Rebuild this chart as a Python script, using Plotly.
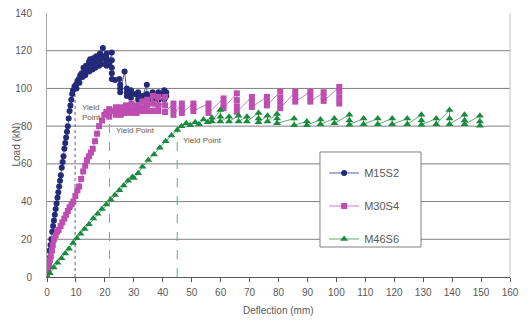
import plotly.graph_objects as go

# ---- data ----
m15_x = [0, 0.3, 0.6, 0.9, 1.2, 1.5, 1.8, 2.1, 2.4, 2.7, 3.0, 3.3, 3.6, 3.9, 4.2, 4.5, 4.8, 5.1, 5.4, 5.7,
         6.0, 6.3, 6.6, 6.9, 7.2, 7.5, 7.8, 8.1, 8.4, 8.7, 9.0, 9.5, 10.0, 10.5, 10.2, 11.0, 11.5, 11.2,
         12.0, 12.6, 12.3, 13.0, 13.5, 13.2, 14.0, 14.5, 14.9, 14.6, 15.5, 16.0, 15.7, 16.5, 17.0, 16.7,
         17.5, 18.0, 18.3, 18.0, 18.8, 19.3, 19.0, 19.3, 20.0, 20.6, 20.6, 20.6, 20.6, 21.5, 22.4, 22.4,
         22.4, 22.4, 22.4, 23.5, 25.0, 25.3, 25.3, 25.3, 26.8, 27.6, 27.6, 27.6, 29.0, 29.0, 29.0, 30.5,
         31.5, 31.5, 31.5, 33.0, 34.5, 34.5, 34.5, 36.0, 36.5, 36.5, 38.0, 38.5, 38.5, 40.0, 40.5, 40.5,
         41.2, 41.2]
m15_y = [0, 6, 10, 14, 17, 20, 24, 27, 30, 33, 36, 39, 42, 45, 48, 51, 54, 58, 61, 64,
         68, 71, 74, 77, 80, 84, 88, 91, 94, 97, 99, 101, 102, 104, 100, 105, 107, 103,
         108, 111, 106, 109, 112, 107, 111, 114, 115.5, 109, 113, 116, 110, 114, 117, 111,
         115, 117, 118.5, 112, 116, 121.5, 113, 117, 116, 118.5, 116, 114, 112, 113, 119, 115,
         111, 108, 105, 104.5, 105, 102, 100, 98, 109, 100, 98, 96, 99, 97, 95, 97,
         98, 96, 94, 96, 102, 97, 95, 96, 98, 94, 96, 98, 94, 97, 99, 94,
         98, 96]

m30_x = [0, 0.4, 0.7, 1.0, 1.3, 1.7, 2.0, 2.4, 3.0, 3.5, 4.0, 4.7, 5.3, 6.0, 6.6, 7.2, 7.8, 8.5, 9.1,
         9.8, 10.5, 11.1, 11.8, 12.5, 13.2, 13.8, 14.5, 15.2, 15.8, 16.6, 17.3, 18.0, 19.0, 19.8, 20.5,
         21.5, 21.5, 21.5, 23.0, 23.8, 23.8, 23.8, 25.5, 25.5, 25.5, 27.3, 27.3, 27.3, 29.2, 29.2, 29.2,
         31.0, 31.0, 31.0, 32.9, 32.9, 32.9, 34.6, 34.6, 34.6, 36.6, 36.6, 36.6, 38.5, 38.5, 38.5,
         40.8, 40.8, 40.8, 43.7, 43.7, 43.7, 46.6, 46.6, 46.6, 50.6, 50.6, 50.6, 55.8, 55.8, 55.8,
         61.0, 61.0, 61.0, 65.6, 65.6, 65.6, 65.6, 70.8, 70.8, 70.8, 76.0, 76.0, 76.0,
         80.6, 80.6, 80.6, 80.6, 85.8, 85.8, 85.8, 91.0, 91.0, 91.0, 95.6, 95.6, 95.6,
         101.0, 101.0, 101.0, 101.0]
m30_y = [0, 3, 6, 9, 11, 14, 17, 20, 22, 24, 25, 27, 29, 31, 33, 35, 37, 38.5, 40,
         43, 46, 48, 52, 56, 59, 62, 64, 66, 68, 72, 76, 80, 83, 86, 87.5,
         89, 87, 85, 88, 90, 88, 86, 90, 88, 86, 91, 89, 87, 92, 89, 87,
         91, 89, 87, 93, 90, 88, 94, 91, 88, 96, 92, 88, 95.5, 91, 88,
         95.5, 91, 87.5, 92, 89, 86, 92, 89.5, 87, 92, 90, 88, 92, 89.5, 87,
         94.7, 92, 89.5, 97.4, 93.8, 90.5, 87.6, 95.5, 92.8, 90.2, 95.5, 93, 91,
         98.3, 95, 92.5, 89.5, 98.2, 95.5, 93, 98.2, 95.5, 93, 98, 95.5, 93.4,
         100.8, 98.2, 95, 92]

m46_x = [0, 1, 2.3, 3.6, 5, 6.3, 7.6, 9, 10.3, 11.6, 13, 14.5, 16, 17.5, 19, 20.5, 22, 23.5, 25,
         26.5, 28, 29.5, 30, 31.5, 33, 35, 37, 39, 41, 43, 45,
         46.5, 48.1, 49.5, 51.2, 52.5, 54.1, 55.5, 57, 57, 59.9, 59.9, 59.9, 62.9, 62.9, 66.2, 66.2,
         69.1, 69.1, 73.1, 73.1, 73.1, 76.2, 76.2, 79.5, 79.5, 79.5, 85.4, 85.4, 89.8, 89.8,
         94.5, 94.5, 99.3, 99.3, 104.5, 104.5, 104.5, 109.4, 109.4, 114.3, 114.3, 119.3, 119.3,
         124.5, 124.5, 129.4, 129.4, 129.4, 134.5, 134.5, 139.1, 139.1, 139.1, 144.3, 144.3, 144.3,
         149.6, 149.6, 149.6]
m46_y = [0, 2, 5, 7.5, 10, 12.5, 15, 18, 20.5, 23, 25.5, 28, 31, 33.5, 36, 38.5, 41, 43.5, 46,
         48.5, 51, 53, 52.5, 55, 58.5, 62, 65, 68.5, 72, 75, 78,
         80, 81.5, 80.5, 82, 81, 83.5, 82, 84.5, 82.5, 88.5, 85, 82.5, 85, 82.5, 85.5, 82.5,
         85, 82.5, 87, 84, 82, 85.5, 82.5, 86.5, 84, 81.5, 84, 80.5, 82.5, 80.5,
         83.5, 81, 84, 81.5, 86, 83, 80.8, 84, 81, 84, 81, 84, 81,
         84, 81, 86, 83, 80.8, 84, 81, 88.5, 84, 81, 86, 83, 81,
         85.5, 82.5, 80.2]

yield_x = [9.7, 21.6, 45.0]
yield_y = [99, 87, 78]
yield_labels = ["Yield<br>Point", "Yield Point", "Yield Point"]
label_x = [11.3, 23.3, 46.3]
label_y = [87.5, 77.5, 72.5]

x_ticks = list(range(0, 161, 10))
y_ticks = list(range(0, 141, 20))
grid_y = [20, 40, 60, 80, 100, 120]

series_names = ["M15S2", "M30S4", "M46S6"]
colors = ["#232A78", "#BE4DB2", "#1B8A3E"]
line_colors = ["#5A5E9E", "#CC7CC3", "#5DAE73"]

fig = go.Figure()

# yield point guide lines
dashes = ["dot", "dash", "dash"]
for xv, yv, c, d in zip(yield_x, yield_y, line_colors, dashes):
    fig.add_trace(go.Scatter(x=[xv, xv], y=[0, yv], mode="lines",
                             line=dict(color=c, width=1, dash=d),
                             showlegend=False, hoverinfo="skip"))

symbols = ["circle", "square", "triangle-up"]
sizes = [6, 6, 7]
data = [(m15_x, m15_y), (m30_x, m30_y), (m46_x, m46_y)]
for i, (xs, ys) in enumerate(data):
    fig.add_trace(go.Scatter(x=xs, y=ys, mode="lines+markers", name=series_names[i],
                             legendgroup=series_names[i],
                             line=dict(color=line_colors[i], width=1),
                             marker=dict(symbol=symbols[i], size=sizes[i], color=colors[i],
                                         line=dict(width=0))))

for t, xv, yv in zip(yield_labels, label_x, label_y):
    fig.add_annotation(x=xv, y=yv, text=t, showarrow=False, xanchor="left", yanchor="middle",
                       align="left", font=dict(size=8, color="#6B5A45", family="Liberation Sans"))

# axis titles
fig.add_annotation(xref="paper", yref="paper", x=0.5, y=-0.125, text="Deflection (mm)",
                   showarrow=False, xanchor="center", yanchor="middle",
                   font=dict(size=10, color="#595959"))
fig.add_annotation(xref="paper", yref="paper", x=-0.068, y=0.5, text="Load (kN)",
                   textangle=-90, showarrow=False, xanchor="center", yanchor="middle",
                   font=dict(size=10, color="#595959"))

for g in grid_y:
    fig.add_shape(type="line", xref="paper", x0=0, x1=1, yref="y", y0=g, y1=g,
                  line=dict(color="#7F7F7F", width=1), layer="below")
# right border
fig.add_shape(type="line", xref="paper", x0=1, x1=1, yref="paper", y0=0, y1=1,
              line=dict(color="#BFBFBF", width=1), layer="below")
# legend frame
fig.add_shape(type="rect", xref="paper", yref="paper", x0=0.5896, x1=0.8078, y0=0.1136, y1=0.4735,
              line=dict(color="#808080", width=1), fillcolor="white", layer="above")

# page body has an 8px margin: figure starts at (8, 8); margins compensate
fig.update_layout(
    width=528, height=320,
    margin=dict(l=39, r=26, t=5, b=51),
    paper_bgcolor="white", plot_bgcolor="white",
    font=dict(family="Liberation Sans", size=11, color="#595959"),
    showlegend=True,
    legend=dict(x=0.5986, y=0.4735, xanchor="left", yanchor="top",
                borderwidth=0, bgcolor="rgba(0,0,0,0)",
                tracegroupgap=14, font=dict(size=11, color="#595959"),
                itemwidth=30,
                title=dict(text=" ", font=dict(size=5))),
    xaxis=dict(range=[0, 160], tickvals=x_ticks, showgrid=False, zeroline=False,
               showline=True, linecolor="#595959", linewidth=1,
               ticks="outside", ticklen=4, tickcolor="#595959", automargin=False,
               ticklabelstandoff=2, ticklabeloverflow="allow",
               tickfont=dict(size=10)),
    yaxis=dict(range=[0, 140], tickvals=y_ticks, showgrid=False, zeroline=False,
               showline=True, linecolor="#A6A6A6", linewidth=1,
               ticks="", ticklabelstandoff=12, automargin=False,
               ticklabeloverflow="allow", tickfont=dict(size=10)),
)

fig.write_html("out.html")
